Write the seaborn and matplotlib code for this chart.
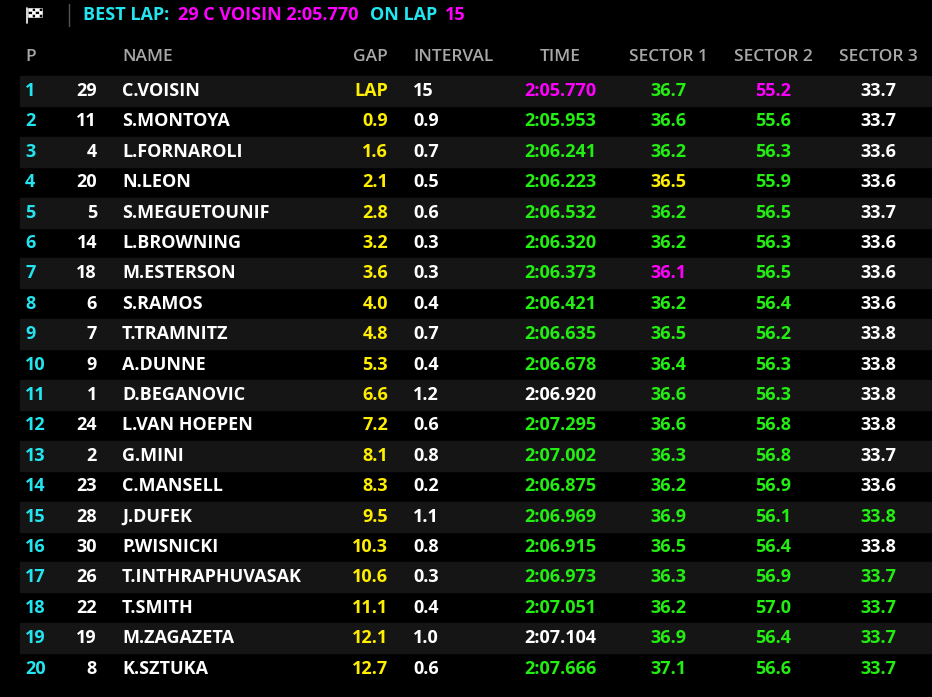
import numpy as np
import pandas as pd
import matplotlib.pyplot as plt
import seaborn as sns

# 데이터
pos = list(range(1, 21))
car = [29, 11, 4, 20, 5, 14, 18, 6, 7, 9, 1, 24, 2, 23, 28, 30, 26, 22, 19, 8]
names = ["C.VOISIN", "S.MONTOYA", "L.FORNAROLI", "N.LEON", "S.MEGUETOUNIF", "L.BROWNING",
         "M.ESTERSON", "S.RAMOS", "T.TRAMNITZ", "A.DUNNE", "D.BEGANOVIC", "L.VAN HOEPEN",
         "G.MINI", "C.MANSELL", "J.DUFEK", "P.WISNICKI", "T.INTHRAPHUVASAK", "T.SMITH",
         "M.ZAGAZETA", "K.SZTUKA"]
gap = ["LAP", "0.9", "1.6", "2.1", "2.8", "3.2", "3.6", "4.0", "4.8", "5.3", "6.6", "7.2",
       "8.1", "8.3", "9.5", "10.3", "10.6", "11.1", "12.1", "12.7"]
interval = ["15", "0.9", "0.7", "0.5", "0.6", "0.3", "0.3", "0.4", "0.7", "0.4", "1.2", "0.6",
            "0.8", "0.2", "1.1", "0.8", "0.3", "0.4", "1.0", "0.6"]
lap_time = ["2:05.770", "2:05.953", "2:06.241", "2:06.223", "2:06.532", "2:06.320", "2:06.373",
            "2:06.421", "2:06.635", "2:06.678", "2:06.920", "2:07.295", "2:07.002", "2:06.875",
            "2:06.969", "2:06.915", "2:06.973", "2:07.051", "2:07.104", "2:07.666"]
s1 = ["36.7", "36.6", "36.2", "36.5", "36.2", "36.2", "36.1", "36.2", "36.5", "36.4", "36.6",
      "36.6", "36.3", "36.2", "36.9", "36.5", "36.3", "36.2", "36.9", "37.1"]
s2 = ["55.2", "55.6", "56.3", "55.9", "56.5", "56.3", "56.5", "56.4", "56.2", "56.3", "56.3",
      "56.8", "56.8", "56.9", "56.1", "56.4", "56.9", "57.0", "56.4", "56.6"]
s3 = ["33.7", "33.7", "33.6", "33.6", "33.7", "33.6", "33.6", "33.6", "33.8", "33.8", "33.8",
      "33.8", "33.7", "33.6", "33.8", "33.8", "33.7", "33.7", "33.7", "33.7"]
# 색 코드: p=purple, g=green, y=yellow, w=white
time_c = "pggggggggg" + "wggggggg" + "wg"
s1_c = "gggyggpggggggggggggg"
s2_c = "pggggggggggggggggggg"
s3_c = "wwwwwwwwwwwwwwgwgggg"
colmap = {"p": "#ff00ff", "g": "#22ee11", "y": "#ffee00", "w": "#ffffff"}

sns.set_theme(style="dark")
plt.rcParams['font.family'] = ['Open Sans', 'DejaVu Sans']

fig = plt.figure(figsize=(9.32, 6.97), dpi=100)
fig.patch.set_facecolor("black")
ax = fig.add_axes([0, 0, 1, 1])
ax.set_facecolor("black")
ax.set_xlim(0, 932)
ax.set_ylim(697, 0)
ax.axis("off")

y0, dy = 91, 30.4
fs = 13
for i in range(20):
    y = y0 + i * dy
    if i % 2 == 0:
        ax.axhspan(y - 15, y + 15, xmin=20 / 932, xmax=1, color="#151515", zorder=0)
    kw = dict(va="center", fontsize=fs, fontweight="bold")
    ax.text(25, y, str(pos[i]), color="#22e5f0", ha="left", **kw)
    ax.text(97, y, str(car[i]), color="white", ha="right", **kw)
    ax.text(122, y, names[i], color="white", ha="left", **kw)
    ax.text(388, y, gap[i], color="#ffee00", ha="right", **kw)
    ax.text(413, y, interval[i], color="white", ha="left", **kw)
    ax.text(560, y, lap_time[i], color=colmap[time_c[i]], ha="center", **kw)
    ax.text(668, y, s1[i], color=colmap[s1_c[i]], ha="center", **kw)
    ax.text(773, y, s2[i], color=colmap[s2_c[i]], ha="center", **kw)
    ax.text(878, y, s3[i], color=colmap[s3_c[i]], ha="center", **kw)

# 헤더
hk = dict(va="center", fontsize=12.5, color="#a8a8a8", fontweight="semibold")
ax.text(25, 57, "P", ha="left", **hk)
ax.text(122, 57, "NAME", ha="left", **hk)
ax.text(388, 57, "GAP", ha="right", **hk)
ax.text(413, 57, "INTERVAL", ha="left", **hk)
ax.text(560, 57, "TIME", ha="center", **hk)
ax.text(668, 57, "SECTOR 1", ha="center", **hk)
ax.text(773, 57, "SECTOR 2", ha="center", **hk)
ax.text(878, 57, "SECTOR 3", ha="center", **hk)

# 체커 깃발 (폰트에 글리프 없음 -> 도형으로)
ax.plot([27, 27], [8, 23], color="white", lw=1.2)
for r in range(3):
    for c in range(4):
        fc = "white" if (r + c) % 2 == 0 else "black"
        ax.add_patch(plt.Rectangle((28 + c * 3.5, 8 + r * 3), 3.5, 3, facecolor=fc,
                                   edgecolor="white", lw=0.4))

ax.plot([69, 69], [4, 26], color="#555555", lw=1)
tk = dict(va="center", fontsize=13, fontweight="bold")
parts = [("BEST LAP: ", "#22e5f0"), ("29 C VOISIN 2:05.770 ", "#ff00ff"),
         ("ON LAP ", "#22e5f0"), ("15", "#ff00ff")]
x = 83
fig.canvas.draw()
rend = fig.canvas.get_renderer()
for txt, c in parts:
    t = ax.text(x, 15, txt, color=c, ha="left", **tk)
    bb = t.get_window_extent(renderer=rend)
    x += bb.width * 1.04
fig.savefig("out.png", facecolor="black")
